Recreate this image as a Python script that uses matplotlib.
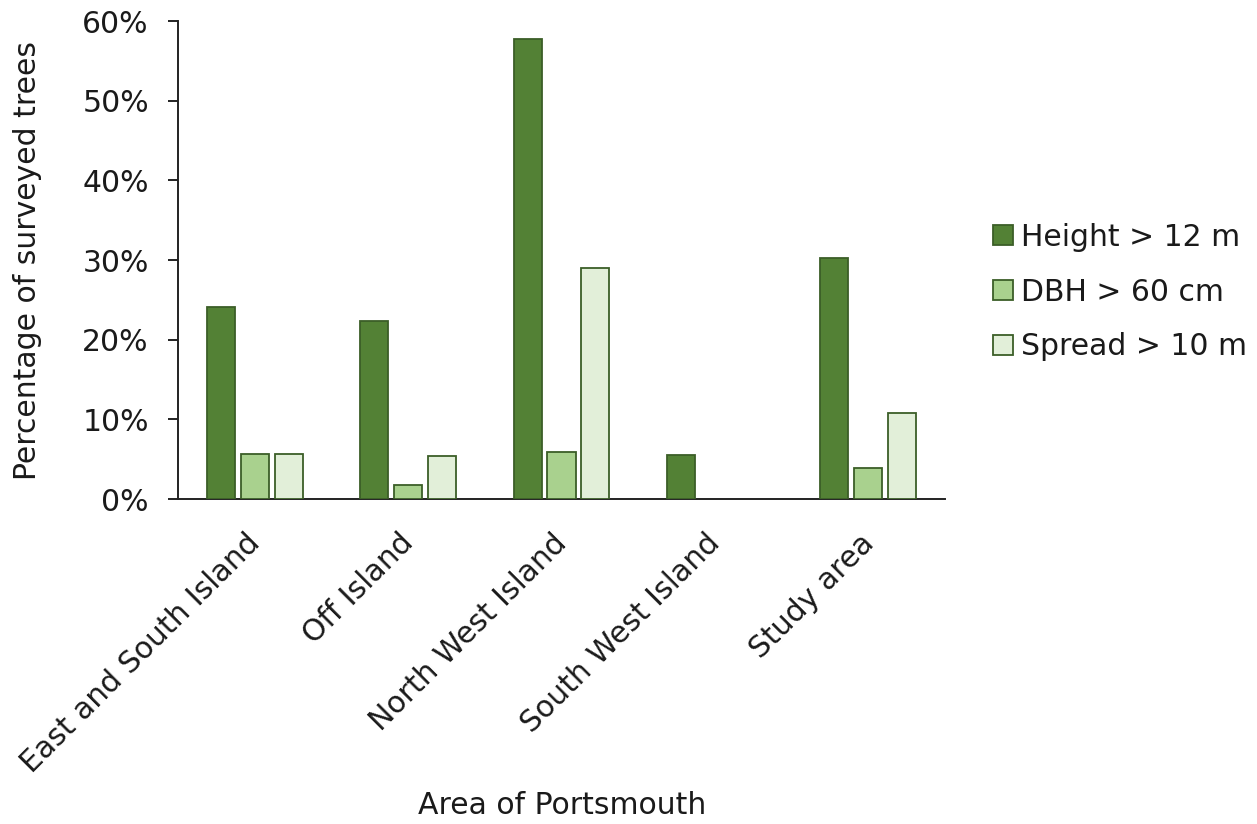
import matplotlib
matplotlib.use("Agg")
import matplotlib.pyplot as plt
import numpy as np
from matplotlib.ticker import PercentFormatter

areas = ["East and South Island", "Off Island", "North West Island",
         "South West Island", "Study area"]
series_names = ["Height > 12 m", "DBH > 60 cm", "Spread > 10 m"]
height_pct = [24.1, 22.3, 57.8, 5.5, 30.2]
dbh_pct = [5.6, 1.8, 5.9, 0.0, 3.9]
spread_pct = [5.6, 5.4, 29.0, 0.0, 10.8]
y_ticks = [0, 10, 20, 30, 40, 50, 60]

fills = ["#538135", "#A9D18E", "#E2EFD9"]
edge = "#3B5E27"
txt = "#1a1a1a"
fs = 21.5

plt.rcParams["font.family"] = ["DejaVu Sans"]
fig = plt.figure(figsize=(12.57, 8.24), dpi=100)
ax = fig.add_axes([0.1416, 0.3944, 0.6102, 0.5801])

x = np.arange(len(areas))
bar_w = 0.183
step = 0.221
for i, (name, vals) in enumerate(zip(series_names, [height_pct, dbh_pct, spread_pct])):
    ax.bar(x + (i - 1) * step, vals, width=bar_w, color=fills[i],
           edgecolor=edge, linewidth=1.3, label=name, zorder=3)
# zero-height bars draw nothing
for p in ax.patches:
    if p.get_height() == 0:
        p.set_visible(False)

ax.set_xlim(-0.5, len(areas) - 0.5)
ax.set_ylim(0, 60)
ax.set_yticks(y_ticks)
ax.yaxis.set_major_formatter(PercentFormatter(decimals=0))
# rotated labels sit a little left of each group centre (ticks themselves are hidden)
ax.set_xticks(x - 0.06)
ax.set_xticklabels(areas, rotation=45, ha="right", rotation_mode="anchor")

for s in ["top", "right"]:
    ax.spines[s].set_visible(False)
for s in ["left", "bottom"]:
    ax.spines[s].set_color("#222222")
    ax.spines[s].set_linewidth(1.4)
ax.tick_params(axis="y", length=7, width=1.4, color="#222222",
               labelsize=fs, pad=14, labelcolor=txt)
ax.tick_params(axis="x", length=0, labelsize=fs, pad=21, labelcolor=txt)

ax.set_ylabel("Percentage of surveyed trees", fontsize=fs, color=txt, labelpad=29)
fig.text(0.447, 0.023, "Area of Portsmouth", fontsize=fs, color=txt,
         ha="center", va="center")

leg = ax.legend(loc="center left", bbox_to_anchor=(1.063, 0.433), frameon=False,
                fontsize=fs, handlelength=0.65, handleheight=0.65,
                handletextpad=0.27, labelspacing=0.86, borderpad=0,
                borderaxespad=0)
for t in leg.get_texts():
    t.set_color(txt)

fig.savefig("out.png", dpi=100, facecolor="white")
